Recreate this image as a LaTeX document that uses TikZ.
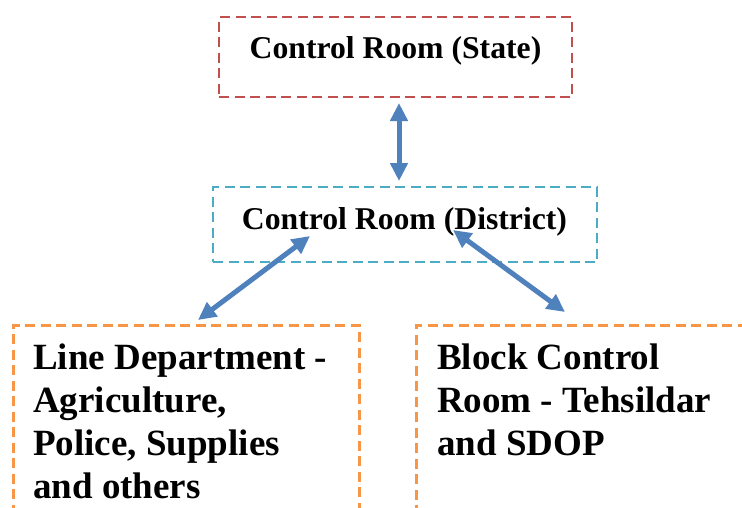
\documentclass[tikz,border=0pt]{standalone}
\usepackage{fontspec}
\setmainfont{Liberation Serif}
\usetikzlibrary{arrows.meta}
\definecolor{boxred}{RGB}{192,80,77}
\definecolor{boxteal}{RGB}{75,172,198}
\definecolor{boxorange}{RGB}{247,150,70}
\definecolor{arrowblue}{RGB}{79,129,189}
\begin{document}
\begin{tikzpicture}[x=1pt,y=-1pt,
  dbox/.style={draw=#1,line width=2.6pt,dash pattern=on 10pt off 5.5pt,inner sep=0pt},
  smalltext/.style={font=\bfseries\fontsize{31.7}{38}\selectfont,inner sep=0pt},
  bigtext/.style={font=\bfseries\fontsize{37}{43}\selectfont,inner sep=0pt,align=left},
  link/.style={draw=arrowblue,line width=5pt,{Triangle[length=18pt,width=17pt]}-{Triangle[length=18pt,width=17pt]}}]
\useasboundingbox (0,0) rectangle (742,507);
\clip (0,0) rectangle (742,507);
% boxes
\node[dbox=boxred,minimum width=353pt,minimum height=80pt] (state) at (395.5,57) {};
\node[smalltext,anchor=base] (statetext) at (395.5,58) {Control Room (State)};
\node[dbox=boxteal,minimum width=384pt,minimum height=75pt] (district) at (405,224.5) {};
\node[smalltext,anchor=base] (districttext) at (404.5,229) {Control Room (District)};
\node[dbox=boxorange,minimum width=346pt,minimum height=260pt,anchor=north west] (line) at (12,324) {};
\node[bigtext,anchor=base west] (linetext) at (33,498) {Line Department -\\Agriculture,\\Police, Supplies\\and others};
\node[dbox=boxorange,minimum width=400pt,minimum height=260pt,anchor=north west] (block) at (415,324) {};
\node[bigtext,anchor=base west] (blocktext) at (437,455) {Block Control\\Room - Tehsildar\\and SDOP};
% arrow ends
\coordinate (a1) at (399,103);
\coordinate (a2) at (399,181);
\coordinate (b1) at (310,236);
\coordinate (b2) at (198,320);
\coordinate (c1) at (453,230);
\coordinate (c2) at (565,312);
\draw[link] (a1) -- (a2);
\draw[link] (b1) -- (b2);
\draw[link] (c1) -- (c2);
\end{tikzpicture}
\end{document}
